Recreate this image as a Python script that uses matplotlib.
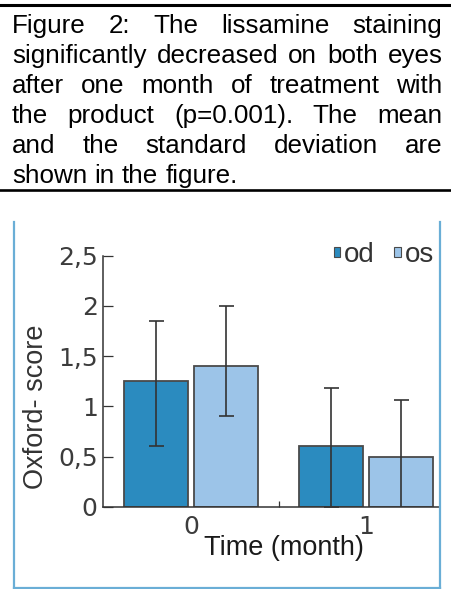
import matplotlib
matplotlib.use("Agg")
import matplotlib.pyplot as plt
from matplotlib.lines import Line2D
from matplotlib.patches import Patch
import numpy as np

# ---- data ----
time_points = ["0", "1"]
series_names = ["od", "os"]
od_mean = [1.25, 0.60]
os_mean = [1.40, 0.50]
od_sd_low = [0.65, 0.60]
od_sd_high = [0.60, 0.58]
os_sd_low = [0.50, 0.56]
os_sd_high = [0.60, 0.56]
y_ticks = [0, 0.5, 1, 1.5, 2, 2.5]
y_tick_labels = ["0", "0,5", "1", "1,5", "2", "2,5"]

caption_lines = [
    "Figure 2: The lissamine staining",
    "significantly decreased on both eyes",
    "after one month of treatment with",
    "the product (p=0.001). The mean",
    "and the standard deviation are",
    "shown in the figure.",
]

W, H = 452, 589
fig = plt.figure(figsize=(W / 100, H / 100), dpi=100)
fig.patch.set_facecolor("white")

def fx(px):
    return px / W

def fy(py):
    return 1 - py / H

# ---- caption block with rules ----
fig.add_artist(Line2D([0, 1], [fy(4.5), fy(4.5)], color="black", lw=2.2))
fig.add_artist(Line2D([0, 1], [fy(190), fy(190)], color="black", lw=1.9))

cap_size = 18.7
cap_font = dict(family="Liberation Sans", size=cap_size, color="black")
fig.canvas.draw()
renderer = fig.canvas.get_renderer()
left_px, right_px = 12, 442.5
for i, line in enumerate(caption_lines):
    words = line.split()
    base_y = 32.6 + 30.1 * i
    texts = [fig.text(0, fy(base_y), w, va="baseline", ha="left", **cap_font) for w in words]
    widths = [t.get_window_extent(renderer).width for t in texts]
    if i < len(caption_lines) - 1:
        gap = (right_px - left_px - sum(widths)) / (len(words) - 1)
    else:
        gap = 0.278 * cap_size * 100 / 72
    x = left_px
    for t, w in zip(texts, widths):
        t.set_x(fx(x))
        x += w + gap

# ---- chart frame ----
frame_color = "#6aaed6"
fig.add_artist(Line2D([fx(14), fx(14)], [fy(222), fy(588)], color=frame_color, lw=1.6))
fig.add_artist(Line2D([fx(440.5), fx(440.5)], [fy(222), fy(588)], color=frame_color, lw=1.6))
fig.add_artist(Line2D([fx(14), fx(440.5)], [fy(588), fy(588)], color=frame_color, lw=1.6))

# ---- bar chart ----
ax_left, ax_right = 103.3, 440
ax_bottom, ax_top = 506.7, 255.7
ax = fig.add_axes([fx(ax_left), fy(ax_bottom), (ax_right - ax_left) / W, (ax_bottom - ax_top) / H])
ax.set_facecolor("none")

x = np.arange(len(time_points))
offset, width = 0.2, 0.366
od_color, os_color = "#2b8bbf", "#9cc4e8"
edge = "#4a4a4a"
err_kw = dict(ecolor="#333333", elinewidth=1.2, capsize=5.4, capthick=1.2)

ax.bar(x - offset, od_mean, width, color=od_color, edgecolor=edge, linewidth=1.3,
       yerr=[od_sd_low, od_sd_high], error_kw=err_kw, label=series_names[0], zorder=2)
ax.bar(x + offset, os_mean, width, color=os_color, edgecolor=edge, linewidth=1.3,
       yerr=[os_sd_low, os_sd_high], error_kw=err_kw, label=series_names[1], zorder=2)

ax.set_ylim(0, 2.5)
ax.set_xlim(-0.504, 1.424)

for s in ["top", "right"]:
    ax.spines[s].set_visible(False)
for s in ["left", "bottom"]:
    ax.spines[s].set_color("#333333")
    ax.spines[s].set_linewidth(1.1)
    ax.spines[s].set_zorder(3)

tick_font = dict(family="DejaVu Sans", size=18, color="#3c3c3c")
ax.set_yticks(y_ticks)
ax.set_yticklabels(y_tick_labels, **tick_font)
ax.tick_params(axis="y", direction="in", length=7, width=0.9, color="#333333", pad=4)

ax.set_xticks(x)
ax.set_xticklabels(time_points, **tick_font)
ax.tick_params(axis="x", which="major", length=0, pad=6)
ax.set_xticks([0.5], minor=True)
ax.tick_params(axis="x", which="minor", direction="in", length=4.5, width=0.9, color="#333333")

ax.set_xlabel("Time (month)", family="Liberation Sans", size=19.5, color="#1a1a1a", va="baseline")
ax.xaxis.set_label_coords((284 - ax_left) / (ax_right - ax_left), (ax_bottom - 555) / (ax_bottom - ax_top))
ax.set_ylabel("Oxford- score", family="Liberation Sans", size=19.5, color="#333333", va="center", ha="center")
ax.yaxis.set_label_coords((36 - ax_left) / (ax_right - ax_left), (ax_bottom - 406.5) / (ax_bottom - ax_top))

handles = [Patch(facecolor=od_color, edgecolor=edge, linewidth=0.8),
           Patch(facecolor=os_color, edgecolor=edge, linewidth=0.8)]
ax.legend(handles, series_names, ncol=2, frameon=False, loc="center right",
          bbox_to_anchor=(fx(434), fy(255)), bbox_transform=fig.transFigure,
          prop=dict(family="Liberation Sans", size=20), labelcolor="#333333",
          handlelength=0.22, handleheight=0.22, handletextpad=0.15, columnspacing=0.7,
          borderpad=0, borderaxespad=0)

fig.savefig("out.png", dpi=100)
